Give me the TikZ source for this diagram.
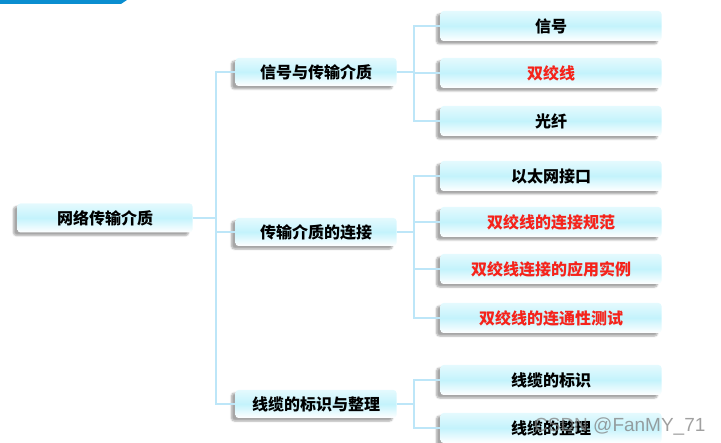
\documentclass[tikz,border=0pt]{standalone}
\usepackage{fontspec}
\newfontfamily\cjk{Noto Sans CJK SC}
\setsansfont{Liberation Sans}
\usetikzlibrary{shadows.blur}
\definecolor{linkblue}{HTML}{BDE6F8}
\definecolor{boxcyan}{HTML}{C4F3FC}
\definecolor{hotred}{HTML}{F5231B}
\definecolor{barblue}{HTML}{0A8ED0}
\tikzset{
  box/.style={rounded corners=3pt,top color=boxcyan!45,bottom color=white,middle color=boxcyan,
    minimum height=29pt,font=\cjk\bfseries\fontsize{16}{18}\selectfont,inner sep=0pt,
    blur shadow={shadow xshift=-4pt,shadow yshift=-3pt,shadow blur steps=6,shadow opacity=35}},
  rootbox/.style={box,minimum width=175pt},
  midbox/.style={box,minimum width=161pt,minimum height=28pt},
  leafbox/.style={box,minimum width=221pt,minimum height=30pt},
  link/.style={draw=linkblue,line width=2pt}
}
\begin{document}
\begin{tikzpicture}[x=1pt,y=-1pt]
\useasboundingbox (0,0) rectangle (721,443);
\fill[barblue] (0,0)--(127,0)--(121,4)--(0,4)--cycle;
% boxes
\node[rootbox] (root) at (105,218) {网络传输介质};
\node[midbox] (sig) at (316,72) {信号与传输介质};
\node[midbox] (conn) at (316,232) {传输介质的连接};
\node[midbox] (cable) at (316,404) {线缆的标识与整理};
\node[leafbox] (xh) at (551,26) {信号};
\node[leafbox,text=hotred] (sjx) at (551,73) {双绞线};
\node[leafbox] (gx) at (551,121) {光纤};
\node[leafbox] (ytw) at (551,176) {以太网接口};
\node[leafbox,text=hotred] (gf) at (551,222) {双绞线的连接规范};
\node[leafbox,text=hotred] (sl) at (551,269) {双绞线连接的应用实例};
\node[leafbox,text=hotred] (cs) at (551,318) {双绞线的连通性测试};
\node[leafbox] (bs) at (551,380) {线缆的标识};
\node[leafbox] (zl) at (551,428) {线缆的整理};
% connectors
\coordinate (j0) at (216,218);\coordinate (j1) at (414,72);
\coordinate (j2) at (414,232);\coordinate (j3) at (414,404);
\draw[link] (root.east)--(j0);
\foreach \t in {sig,conn,cable} \draw[link] (j0) |- (\t.west);
\draw[link] (sig.east)--(j1);\foreach \t in {xh,sjx,gx} \draw[link] (j1) |- (\t.west);
\draw[link] (conn.east)--(j2);\foreach \t in {ytw,gf,sl,cs} \draw[link] (j2) |- (\t.west);
\draw[link] (cable.east)--(j3);\foreach \t in {bs,zl} \draw[link] (j3) |- (\t.west);
\node[text=gray,opacity=.75,font=\sffamily\fontsize{19}{20}\selectfont,anchor=east] (mark) at (709,427) {CSDN @FanMY\_71};
\end{tikzpicture}
\end{document}
